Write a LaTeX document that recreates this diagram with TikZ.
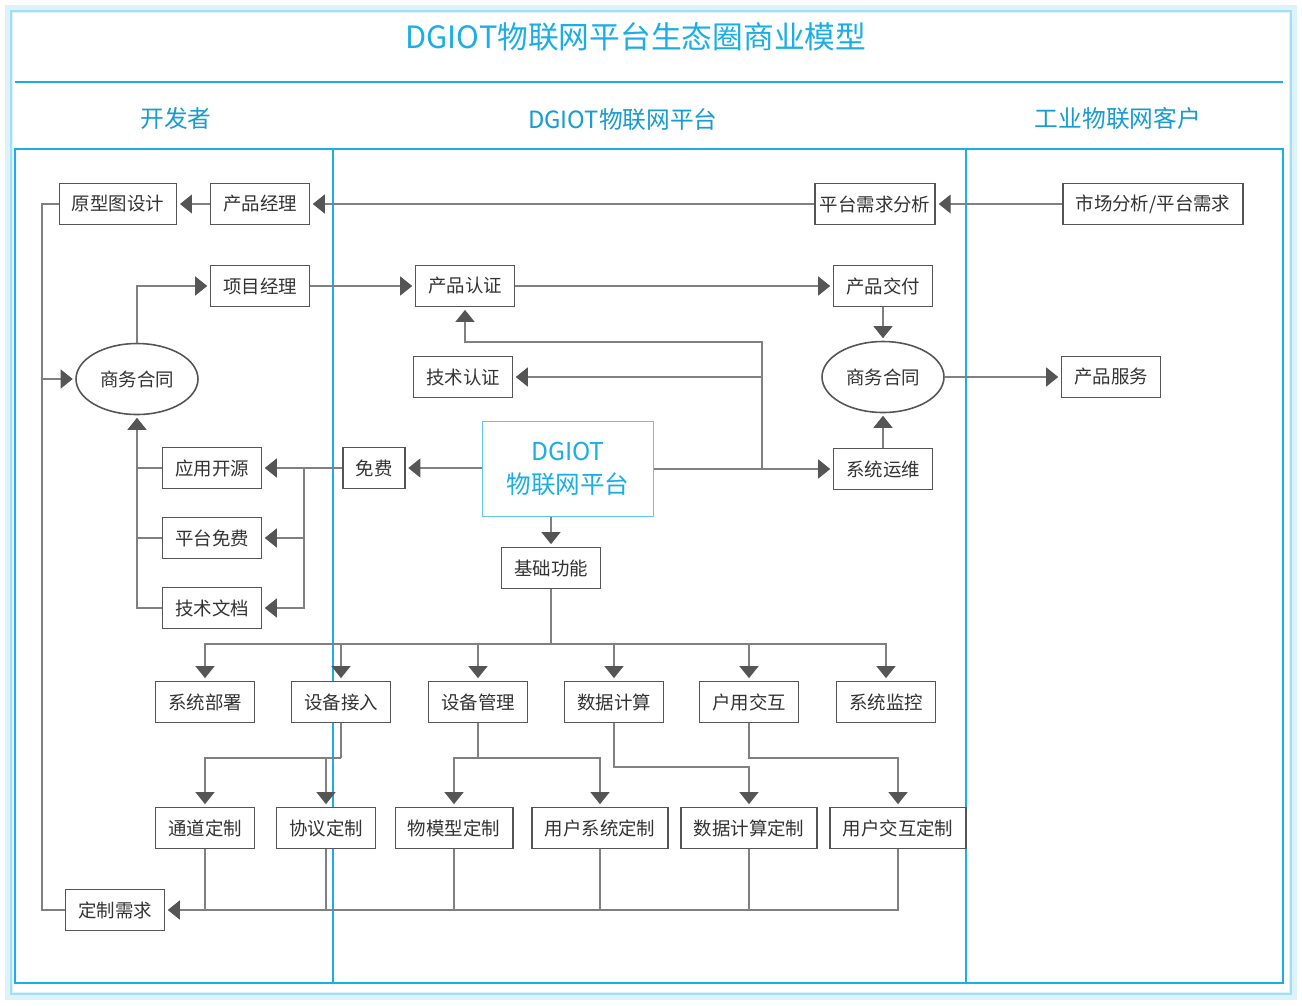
\documentclass[tikz,border=0pt]{standalone}
\usepackage{fontspec}
\setmainfont{Noto Sans CJK SC}
\usepackage{tikz}
\usetikzlibrary{positioning,arrows.meta,shapes.geometric}
\usepackage{xcolor}
\definecolor{iotblue}{HTML}{1AADE6}
\definecolor{boxgray}{HTML}{555555}
\definecolor{linegray}{HTML}{808080}

\begin{document}
\begin{tikzpicture}[x=0.02cm,y=-0.02cm,>={Triangle[length=0.24cm,width=0.38cm,color=boxgray]},
  box/.style={draw=boxgray,line width=1pt,fill=white,text=black!80,font=\fontsize{10.5}{12}\selectfont,inner xsep=0.25cm,minimum height=0.82cm},
  deal/.style={ellipse,draw=boxgray,line width=0.9pt,fill=white,text=black!80,font=\fontsize{10.5}{12}\selectfont,minimum width=2.44cm,minimum height=1.42cm},
  wire/.style={draw=linegray,line width=0.7pt},
  arr/.style={wire,->,shorten >=0.05cm},
  lane/.style={draw=iotblue,line width=1.1pt}]
\useasboundingbox (0,0) rectangle (1302,1005);
% frame and lanes
\draw[iotblue!15,line width=5pt] (9,9) rectangle (1293,996);
\draw[iotblue!40,line width=1.2pt] (11,11) rectangle (1291,994);
\node[text=iotblue,font=\fontsize{17.5}{20}\selectfont] (title) at (636,37) {DGIOT物联网平台生态圈商业模型};
\draw[lane] (15,82) -- (1283,82);
\node[text=iotblue!90!black,font=\fontsize{13.5}{16}\selectfont] (devs) at (176,118) {开发者};
\node[text=iotblue!90!black,font=\fontsize{13.5}{16}\selectfont] (plat) at (623,120) {DGIOT物联网平台};
\node[text=iotblue!90!black,font=\fontsize{13.5}{16}\selectfont] (cust) at (1118,118) {工业物联网客户};
\draw[lane] (15,149) rectangle (1283,983);
\draw[lane] (333,149) -- (333,983);
\draw[lane] (966,149) -- (966,983);

% nodes
\node[box] (proto) at (118,204) {原型图设计};
\node[box] (pm) at (260,204) {产品经理};
\node[box,inner xsep=0.1cm] (demand) at (875,204) {平台需求分析};
\node[box] (market) at (1153,204) {市场分析/平台需求};
\node[box] (proj) at (260,286) {项目经理};
\node[box] (cert) at (465,286) {产品认证};
\node[box] (deliver) at (883,286) {产品交付};
\node[deal] (dealL) at (137,379) {商务合同};
\node[box] (techcert) at (463,377) {技术认证};
\node[deal] (dealR) at (883,377) {商务合同};
\node[box] (service) at (1111,377) {产品服务};
\node[box] (opensrc) at (212,468) {应用开源};
\node[box] (free) at (374,468) {免费};
\node[draw=iotblue!70,line width=0.7pt,fill=white,text=iotblue,align=center,font=\fontsize{14}{19}\selectfont,minimum width=3.42cm,minimum height=1.9cm] (core) at (568,469) {DGIOT\\物联网平台};
\node[box] (ops) at (883,469) {系统运维};
\node[box] (basic) at (551,568) {基础功能};
\node[box] (pfree) at (212,538) {平台免费};
\node[box] (docs) at (212,608) {技术文档};
\node[box] (deploy) at (205,702) {系统部署};
\node[box] (access) at (341,702) {设备接入};
\node[box] (devmgr) at (478,702) {设备管理};
\node[box] (calc) at (614,702) {数据计算};
\node[box] (interact) at (749,702) {户用交互};
\node[box] (monitor) at (886,702) {系统监控};
\node[box] (chan) at (205,828) {通道定制};
\node[box] (protocol) at (326,828) {协议定制};
\node[box] (thing) at (454,828) {物模型定制};
\node[box] (usersys) at (600,828) {用户系统定制};
\node[box] (calccus) at (749,828) {数据计算定制};
\node[box] (intercus) at (898,828) {用户交互定制};
\node[box] (need) at (115,910) {定制需求};

% top flows
\draw[arr] (market) -- (demand);
\draw[arr] (demand) -- (pm);
\draw[arr] (pm) -- (proto);
\coordinate (lbus) at (42,379);
\draw[wire] (proto.west) -| (lbus) |- (need.west);
\draw[arr] (lbus) -- (dealL);
\draw[arr] (dealL.north) |- (proj.west);
\draw[arr] (proj) -- (cert);
\draw[arr] (cert) -- (deliver);
\draw[arr] (deliver) -- (dealR);
\draw[arr] (dealR) -- (service);
\draw[arr] (ops) -- (dealR);

% platform outputs
\draw[arr] (core) -- (ops);
\coordinate (rbus) at (762,469);
\coordinate (rtop) at (762,342);
\draw[arr] (rbus) -- (rtop) -| (cert.south);
\draw[arr] (rbus |- techcert) -- (techcert);
\draw[arr] (core.west |- free) -- (free);
\coordinate (fbus) at (304,468);
\draw[arr] (free) -- (opensrc);
\draw[arr] (fbus) |- (pfree);
\draw[arr] (fbus) |- (docs);
\draw[arr] (docs.west) -| (dealL.south);
\draw[wire] (opensrc.west) -- (opensrc.west -| dealL.south);
\draw[wire] (pfree.west) -- (pfree.west -| dealL.south);

% basic functions
\draw[arr] (core.south -| basic) -- (basic);
\coordinate (bbus) at (551,644);
\draw[wire] (basic) -- (bbus);
\foreach \n in {deploy,access,devmgr,calc,interact,monitor}
  \draw[arr] (bbus) -| (\n.north);
\coordinate (abus) at (341,758);
\draw[wire] (access) -- (abus);
\draw[arr] (abus) -| (chan.north);
\draw[arr] (abus) -| (protocol.north);
\coordinate (dbus) at (478,758);
\draw[wire] (devmgr) -- (dbus);
\draw[arr] (dbus) -| (thing.north);
\draw[arr] (dbus) -| (usersys.north);
\coordinate (cbus) at (614,767);
\draw[arr] (calc) -- (cbus) -| (calccus.north);
\coordinate (ibus) at (749,758);
\draw[arr] (interact) -- (ibus) -| (intercus.north);

% custom needs
\draw[arr] (intercus.south) |- (need.east);
\foreach \n in {chan,protocol,thing,usersys,calccus}
  \draw[wire] (\n.south) -- (\n.south |- need.east);
\end{tikzpicture}
\end{document}
